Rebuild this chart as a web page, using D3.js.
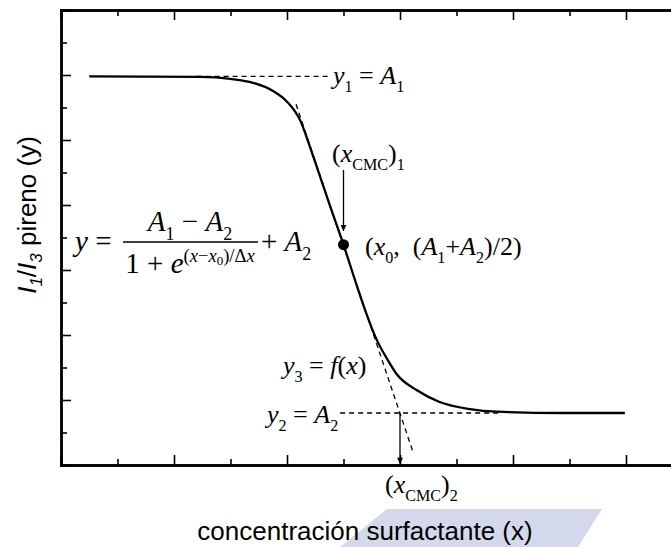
<!DOCTYPE html>
<html>
<head>
<meta charset="utf-8">
<script src="https://cdn.jsdelivr.net/npm/d3@7"></script>
<style>
  body { margin: 0; background: #fff; }
  svg { display: block; }
</style>
</head>
<body>
<div id="chart"></div>
<script>
// values (arbitrary units)
const curveX = [0.25, 1.23, 1.50, 1.70, 1.88, 2.00, 2.12, 2.20, 2.29, 2.38, 2.50, 2.61, 2.70, 2.79, 2.89, 2.97, 3.15, 3.35, 3.62, 3.86, 4.42, 4.99];
const curveY = [5.98, 5.97, 5.94, 5.88, 5.75, 5.59, 5.29, 4.91, 4.45, 3.99, 3.39, 2.80, 2.34, 1.94, 1.62, 1.40, 1.15, 0.97, 0.86, 0.82, 0.80, 0.80];
const a1 = 5.98;
const a2 = 0.80;
const x0 = 2.50;
const midY = 3.39;
const tangentX = [2.08, 3.115];
const tangentY = [5.55, 0.20];
const a1LineX = [1.20, 2.36];
const a2LineX = [2.47, 3.90];
const cmc1Arrow = [4.54, 3.60];   // y from / to, at x0
const cmc2X = 3.0;
const majorX = [0, 1, 2, 3, 4, 5, 6];
const minorX = [0.5, 1.5, 2.5, 3.5, 4.5, 5.5];
const majorY = [1, 2, 3, 4, 5, 6];
const minorY = [0.5, 1.5, 2.5, 3.5, 4.5, 5.5, 6.5];

const width = 671, height = 547;
const serif = "'Liberation Serif', 'Times New Roman', serif";
const sans = "'Liberation Sans', Arial, sans-serif";

const svg = d3.select("#chart").append("svg")
    .attr("width", width)
    .attr("height", height);

const x = d3.scaleLinear().domain([0, 6]).range([61, 739]);
const y = d3.scaleLinear().domain([0, 7]).range([465, 10]);

// faint watermark behind the x title
svg.append("path")
    .attr("d", "M387,509 L602,509 L578,547 L340,547 Z")
    .attr("fill", "#d3d9eb");

// axes (ticks pointing inward, no labels)
function axis(gen, vals, size, transform) {
    const g = svg.append("g")
        .attr("transform", transform)
        .call(gen.tickValues(vals).tickSize(-size).tickFormat(""));
    g.select(".domain").attr("stroke-width", 2.4).attr("stroke", "#000");
    g.selectAll(".tick line").attr("stroke-width", 1.6).attr("stroke", "#000");
    return g;
}
axis(d3.axisBottom(x), majorX, 10, "translate(0,465)");
axis(d3.axisBottom(x), minorX, 6, "translate(0,465)");
axis(d3.axisTop(x), majorX, 10, "translate(0,10)");
axis(d3.axisTop(x), minorX, 6, "translate(0,10)");
axis(d3.axisLeft(y), majorY, 10, "translate(61,0)");
axis(d3.axisLeft(y), minorY, 6, "translate(61,0)");

// dashed guide lines
const dashed = (x1, y1, x2, y2) => svg.append("line")
    .attr("x1", x(x1)).attr("y1", y(y1))
    .attr("x2", x(x2)).attr("y2", y(y2))
    .attr("stroke", "#000").attr("stroke-width", 1.3)
    .attr("stroke-dasharray", "5,4");
dashed(a1LineX[0], a1, a1LineX[1], a1);
dashed(a2LineX[0], a2, a2LineX[1], a2);
dashed(tangentX[0], tangentY[0], tangentX[1], tangentY[1]);

// fitted curve
const pts = curveX.map((d, i) => [d, curveY[i]]);
svg.append("path")
    .datum(pts)
    .attr("fill", "none")
    .attr("stroke", "#000")
    .attr("stroke-width", 2.3)
    .attr("d", d3.line().x(d => x(d[0])).y(d => y(d[1])).curve(d3.curveMonotoneX));

// arrows
svg.append("defs").append("marker")
    .attr("id", "head")
    .attr("viewBox", "0 0 10 10")
    .attr("refX", 10).attr("refY", 5)
    .attr("markerWidth", 10).attr("markerHeight", 6)
    .attr("markerUnits", "userSpaceOnUse")
    .attr("orient", "auto")
    .append("path").attr("d", "M0,0 L10,5 L0,10 Z").attr("fill", "#000");

const arrow = (xv, yFrom, yTo) => svg.append("line")
    .attr("x1", x(xv)).attr("y1", y(yFrom))
    .attr("x2", x(xv)).attr("y2", y(yTo))
    .attr("stroke", "#000").attr("stroke-width", 1.3)
    .attr("marker-end", "url(#head)");
arrow(x0, cmc1Arrow[0], cmc1Arrow[1]);
arrow(cmc2X, a2, 0.02);

// midpoint
svg.append("circle")
    .attr("cx", x(x0)).attr("cy", y(midY))
    .attr("r", 5.5).attr("fill", "#000");

// math-style labels: parts = [text, italic, scale, baseline offset (em)]
function math(px, py, parts, size, anchor) {
    const t = svg.append("text")
        .attr("x", px).attr("y", py)
        .attr("font-family", serif)
        .attr("font-size", size)
        .attr("text-anchor", anchor || "start")
        .attr("fill", "#000");
    let cur = 0;
    parts.forEach(([str, it, sc, off]) => {
        const o = (off || 0) * size;
        t.append("tspan")
            .attr("dy", o - cur)
            .attr("font-size", size * (sc || 1))
            .attr("font-style", it ? "italic" : "normal")
            .text(str);
        cur = o;
    });
    return t;
}
const S = 0.62;
const fs = 26;
const sp = "\u00a0";

math(333, 84, [["y", 1], ["1", 0, S, 0.3], [sp + "=" + sp, 0], ["A", 1], ["1", 0, S, 0.3]], fs);
math(332, 162, [["(", 0], ["x", 1], ["CMC", 0, S, 0.3], [")", 0], ["1", 0, S, 0.3]], fs);
math(365, 255, [["(", 0], ["x", 1], ["0", 0, S, 0.3], ["," + sp + sp + "(", 0], ["A", 1], ["1", 0, S, 0.3], ["+", 0], ["A", 1], ["2", 0, S, 0.3], [")/2)", 0]], fs);
math(283, 374, [["y", 1], ["3", 0, S, 0.3], [sp + "=" + sp, 0], ["f", 1], ["(", 0], ["x", 1], [")", 0]], fs);
math(267, 423, [["y", 1], ["2", 0, S, 0.3], [sp + "=" + sp, 0], ["A", 1], ["2", 0, S, 0.3]], fs);
math(385, 493, [["(", 0], ["x", 1], ["CMC", 0, S, 0.3], [")", 0], ["2", 0, S, 0.3]], fs);

// formula
const ff = 29;
math(75, 251, [["y", 1], [sp + "=", 0]], ff);
math(190, 231, [["A", 1], ["1", 0, S, 0.3], [sp + "\u2212" + sp, 0], ["A", 1], ["2", 0, S, 0.3]], ff, "middle");
svg.append("line")
    .attr("x1", 123).attr("x2", 258).attr("y1", 242).attr("y2", 242)
    .attr("stroke", "#000").attr("stroke-width", 1.3);
math(190, 273, [["1" + sp + "+" + sp, 0], ["e", 1], ["(", 0, 0.64, -0.38], ["x", 1, 0.64, -0.38], ["\u2212", 0, 0.64, -0.38], ["x", 1, 0.64, -0.38], ["0", 0, 0.45, -0.28], [")/\u0394", 0, 0.64, -0.38], ["x", 1, 0.64, -0.38]], ff, "middle");
math(261, 251, [["+" + sp, 0], ["A", 1], ["2", 0, S, 0.3]], ff);

// axis titles
svg.append("text")
    .attr("x", 365).attr("y", 540)
    .attr("text-anchor", "middle")
    .attr("font-family", sans).attr("font-size", 26)
    .text("concentración surfactante (x)");

const yt = svg.append("text")
    .attr("transform", "translate(36,215) rotate(-90)")
    .attr("text-anchor", "middle")
    .attr("font-family", sans).attr("font-size", 26);
yt.append("tspan").attr("font-style", "italic").text("I");
yt.append("tspan").attr("font-style", "italic").attr("font-size", 17).attr("dy", 6).text("1");
yt.append("tspan").attr("dy", -6).text("/");
yt.append("tspan").attr("font-style", "italic").text("I");
yt.append("tspan").attr("font-style", "italic").attr("font-size", 17).attr("dy", 6).text("3");
yt.append("tspan").attr("dy", -6).text(" pireno (y)");
</script>
</body>
</html>
